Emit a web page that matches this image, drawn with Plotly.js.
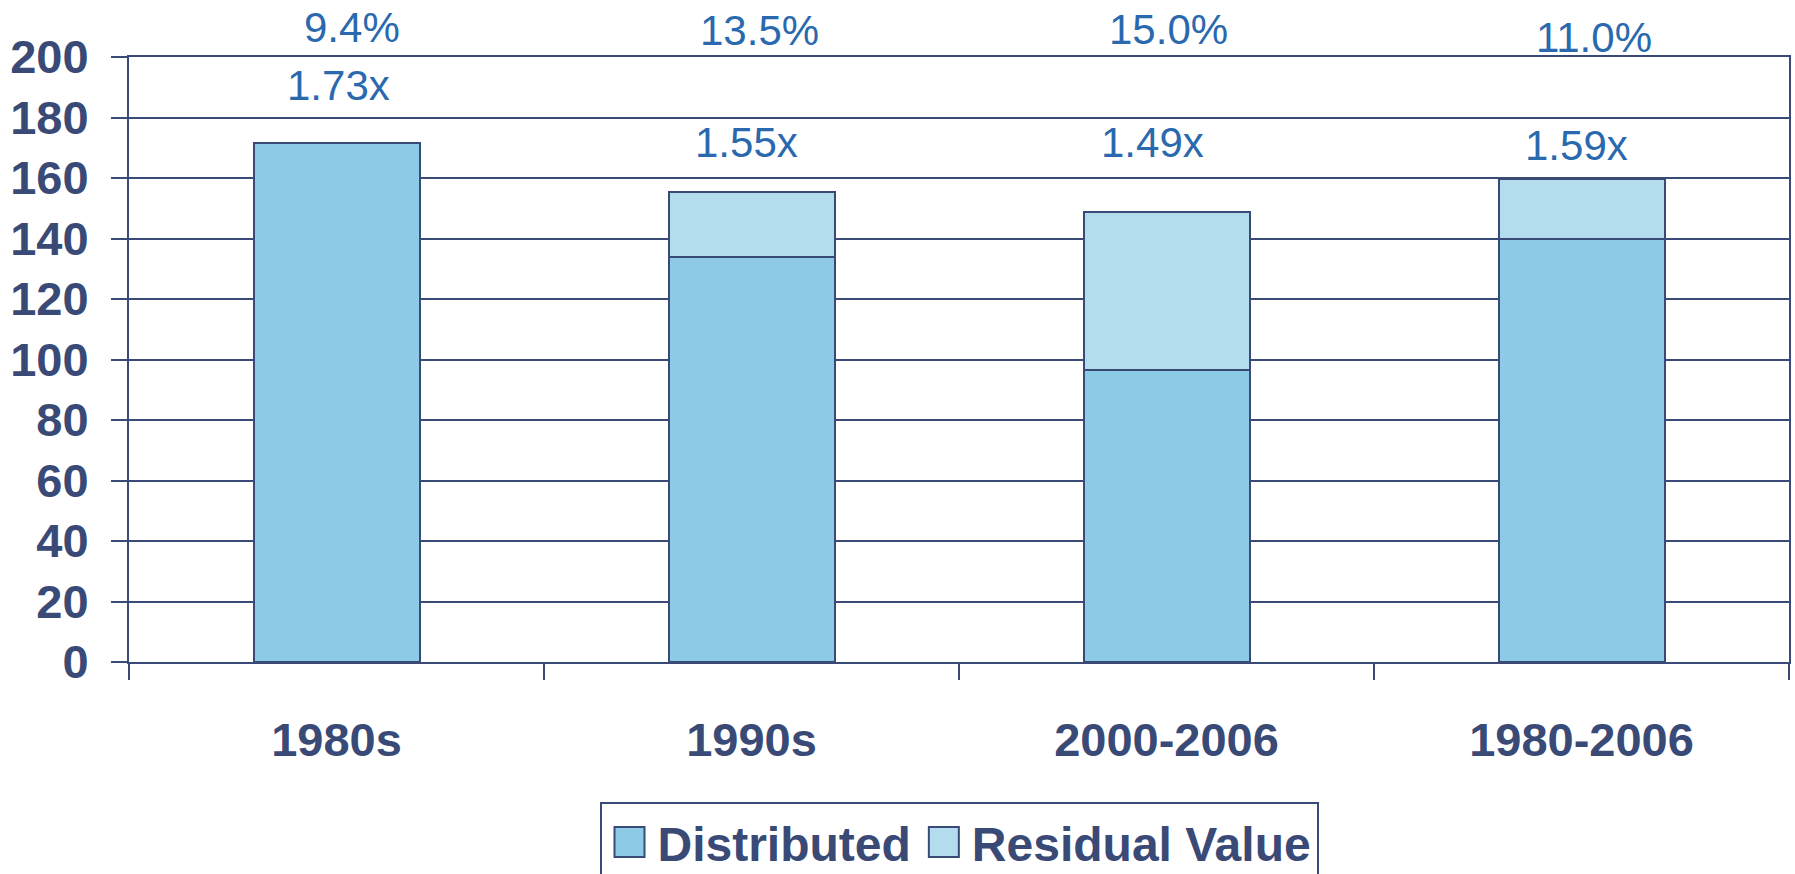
<!DOCTYPE html>
<html>
<head>
<meta charset="utf-8">
<script src="https://cdn.plot.ly/plotly-3.0.1.min.js"></script>
<style>
  html, body { margin: 0; padding: 0; background: #ffffff; }
  #chart { width: 1795px; height: 874px; }
</style>
</head>
<body>
<div id="chart"></div>
<script>
// ---- data ----
const categories = ["1980s", "1990s", "2000-2006", "1980-2006"];
const distributed = [171.5, 134, 96.6, 140];
const residualValue = [0, 21.3, 52.2, 19.6];
const irrLabels = ["9.4%", "13.5%", "15.0%", "11.0%"];
const multipleLabels = ["1.73x", "1.55x", "1.49x", "1.59x"];
const irrLabelY = [209.7, 208.6, 209.2, 206.5];
const multipleLabelY = [190.7, 171.6, 171.6, 170.7];
const irrShift = [15, 8, 2, 12];
const multipleShift = [2, -5, -14, -5];
const yTicks = [0, 20, 40, 60, 80, 100, 120, 140, 160, 180, 200];
const yRange = [0, 200];

// ---- styles ----
const navy = "#3A4A76";
const labelBlue = "#2A69AE";
const fontFam = "Liberation Sans, Arial, Helvetica, sans-serif";

const traces = [
  {
    type: "bar", name: "Distributed", x: categories, y: distributed,
    marker: { color: "#8CCAE6", line: { color: navy, width: 2 } },
    hoverinfo: "x+y"
  },
  {
    type: "bar", name: "Residual Value", x: categories, y: residualValue,
    marker: { color: "#B3DCED", line: { color: navy, width: 2 } },
    hoverinfo: "x+y"
  }
];

const annotations = [];
categories.forEach((c, i) => {
  // IRR labels sit above the top of the axis range -> place with paper y
  annotations.push({
    x: c, y: (irrLabelY[i] - yRange[0]) / (yRange[1] - yRange[0]),
    xref: "x", yref: "paper", text: irrLabels[i],
    showarrow: false, xanchor: "center", yanchor: "middle", xshift: irrShift[i],
    font: { family: fontFam, size: 42, color: labelBlue }
  });
  annotations.push({
    x: c, y: multipleLabelY[i], xref: "x", yref: "y", text: multipleLabels[i],
    showarrow: false, xanchor: "center", yanchor: "middle", xshift: multipleShift[i],
    font: { family: fontFam, size: 42, color: labelBlue }
  });
});

const layout = {
  width: 1795, height: 874,
  margin: { l: 129, r: 6, t: 57, b: 212, pad: 0, autoexpand: false },
  paper_bgcolor: "#ffffff", plot_bgcolor: "#ffffff",
  barmode: "stack", bargap: 0.6,
  font: { family: fontFam, color: navy },
  showlegend: true,
  legend: {
    orientation: "h", x: 0.5, xanchor: "center", y: -0.232, yanchor: "top",
    bordercolor: navy, borderwidth: 2, bgcolor: "#ffffff",
    font: { family: fontFam, size: 48, color: navy, weight: "bold" },
    traceorder: "normal", itemwidth: 46
  },
  xaxis: {
    type: "category", categoryorder: "array", categoryarray: categories,
    showline: true, linecolor: navy, linewidth: 2, mirror: true,
    ticks: "outside", tickson: "boundaries", ticklen: 16, tickwidth: 2, tickcolor: navy,
    ticklabelstandoff: 36,
    tickfont: { family: fontFam, size: 47, color: navy, weight: "bold" },
    showgrid: false, fixedrange: true
  },
  yaxis: {
    range: yRange, tickmode: "array", tickvals: yTicks, ticktext: yTicks.map(String),
    showline: true, linecolor: navy, linewidth: 2, mirror: true,
    ticks: "outside", ticklen: 16, tickwidth: 2, tickcolor: navy,
    ticklabelstandoff: 13,
    showgrid: true, gridcolor: navy, gridwidth: 2,
    zeroline: false,
    tickfont: { family: fontFam, size: 47, color: navy, weight: "bold" },
    fixedrange: true
  },
  annotations: annotations
};

Plotly.newPlot("chart", traces, layout, { displayModeBar: false, staticPlot: true }).then(function (gd) {
  // enlarge the legend swatches to match the reference's large square keys
  gd.querySelectorAll(".legend .legendpoints path").forEach(function (p) {
    p.setAttribute("d", "M15,15H-15V-15H15Z");
  });
});
</script>
</body>
</html>
